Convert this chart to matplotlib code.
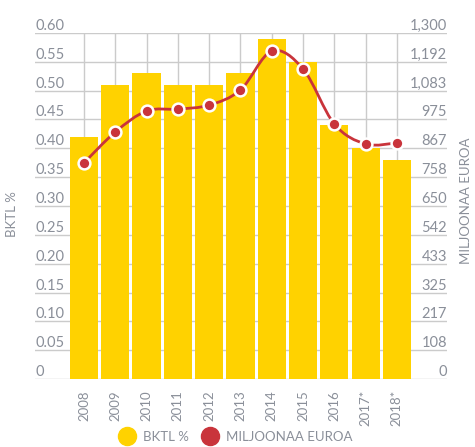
import matplotlib
matplotlib.use("Agg")
import matplotlib.pyplot as plt
from matplotlib.path import Path
from matplotlib.patches import PathPatch
from matplotlib.lines import Line2D
import numpy as np

plt.rcParams['font.family'] = ['Lato', 'DejaVu Sans']

years = ["2008", "2009", "2010", "2011", "2012", "2013", "2014", "2015", "2016", "2017*", "2018*"]
bktl = [0.42, 0.51, 0.53, 0.51, 0.51, 0.53, 0.59, 0.55, 0.44, 0.40, 0.38]
meur = [812, 928, 1007, 1014, 1029, 1086, 1232, 1165, 958, 883, 887]
left_ticks = [0, 0.05, 0.10, 0.15, 0.20, 0.25, 0.30, 0.35, 0.40, 0.45, 0.50, 0.55, 0.60]
left_labels = ["0", "0.05", "0.10", "0.15", "0.20", "0.25", "0.30", "0.35", "0.40", "0.45", "0.50", "0.55", "0.60"]
right_labels = ["0", "108", "217", "325", "433", "542", "650", "758", "867", "975", "1,083", "1,192", "1,300"]

YELLOW = "#FFD200"
RED = "#C9343B"
GRID = "#CBCBCB"
TXT = "#8A8F99"

fig = plt.figure(figsize=(4.75, 4.47), dpi=100)
ax = fig.add_axes([35/475, 1-379/447, (447-35)/475, (379-33)/447])
x = np.arange(len(years))
ax.set_xlim(-1.565, 11.6)
ax.set_ylim(0, 0.6)
for s in ax.spines.values():
    s.set_visible(False)
ax.set_yticks(left_ticks)
ax.set_yticklabels([])
ax.tick_params(axis='y', length=0)
ax.set_xticks(x)
ax.set_xticklabels(years, rotation=90, color=TXT, fontsize=9.5)
ax.tick_params(axis='x', length=0, pad=8)
ax.grid(True, color=GRID, linewidth=1)
ax.set_axisbelow(True)
ax.bar(x, bktl, width=0.9, color=YELLOW, zorder=2)

for v, lab in zip(left_ticks, left_labels):
    ax.text(0.0, v, lab, transform=ax.get_yaxis_transform(), ha='left', va='bottom',
            color=TXT, fontsize=10.5)

ax2 = ax.twinx()
ax2.set_ylim(0, 1300)
ax2.set_yticks([])
for s in ax2.spines.values():
    s.set_visible(False)
rticks = np.linspace(0, 1300, 13)
for v, lab in zip(rticks, right_labels):
    ax2.text(1.0, v, lab, transform=ax2.get_yaxis_transform(), ha='right', va='bottom',
             color=TXT, fontsize=10.5)

# smooth curve through points (Catmull-Rom as Bezier)
P = np.column_stack([x, meur]).astype(float)
n = len(P)
verts = [P[0]]
codes = [Path.MOVETO]
for i in range(n - 1):
    p0 = P[i - 1] if i > 0 else P[i]
    p1 = P[i]
    p2 = P[i + 1]
    p3 = P[i + 2] if i + 2 < n else P[i + 1]
    c1 = p1 + (p2 - p0) / 6
    c2 = p2 - (p3 - p1) / 6
    verts += [c1, c2, p2]
    codes += [Path.CURVE4] * 3
ax2.add_patch(PathPatch(Path(verts, codes), facecolor='none', edgecolor=RED, lw=2, zorder=3))
ax2.plot(x, meur, linestyle='none', marker='o', markersize=8.5, markerfacecolor=RED,
         markeredgecolor='white', markeredgewidth=1.8, zorder=4)

fig.text(12/475, 1-214/447, "BKTL %", rotation=90, ha='center', va='center', color=TXT, fontsize=9.5)
fig.text(466/475, 1-201/447, "MILJOONAA EUROA", rotation=90, ha='center', va='center', color=TXT, fontsize=9.5)

handles = [Line2D([], [], linestyle='none', marker='o', markersize=13, color=YELLOW),
           Line2D([], [], linestyle='none', marker='o', markersize=13, color=RED)]
leg = fig.legend(handles, ["BKTL %", "MILJOONAA EUROA"], loc='center', bbox_to_anchor=(236/475, 1-437/447),
                 ncol=2, frameon=False, fontsize=9.5, handletextpad=0.6, columnspacing=1.0,
                 handlelength=1.2)
for t in leg.get_texts():
    t.set_color(TXT)

fig.savefig("out.png", dpi=100)
